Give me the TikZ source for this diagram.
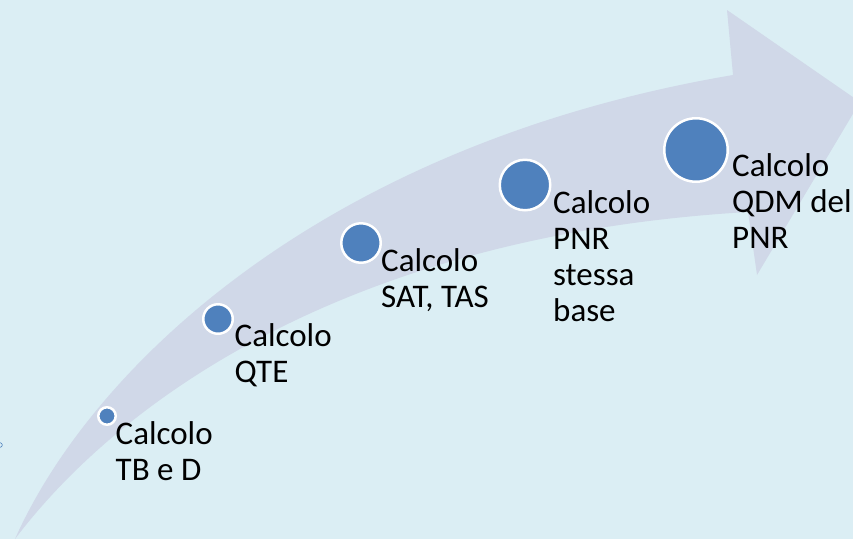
\documentclass[tikz,border=0pt]{standalone}
\usepackage{fontspec}
\setmainfont{Carlito}
\definecolor{bgc}{HTML}{DBEEF4}
\definecolor{arrowc}{HTML}{D0D8E8}
\definecolor{dotc}{HTML}{4F81BD}
\begin{document}
\begin{tikzpicture}[x=1pt,y=-1pt,
  dot/.style={circle,fill=dotc,draw=white,line width=2.5pt,inner sep=0pt,minimum size=#1},
  lbl/.style={anchor=base west,inner sep=0pt,font=\fontsize{33}{36}\selectfont}]
\useasboundingbox (0,0) rectangle (853,539);
\clip (0,0) rectangle (853,539);
\fill[bgc] (0,0) rectangle (853,539);
% curved arrow
\fill[arrowc] (15,539) .. controls (90,370) and (320,145) .. (733,75)
  -- (727,10) -- (860,102) -- (757,275) -- (748,212)
  .. controls (350,235) and (120,400) .. (15,539) -- cycle;
% tiny mark at the left edge
\draw[dotc,line width=0.6pt] (0,445) circle (2.3);
% dots
\node[dot=17.5pt] (c1) at (107,416) {};
\node[dot=29.5pt] (c2) at (218,319) {};
\node[dot=39.5pt] (c3) at (361,243) {};
\node[dot=50.5pt] (c4) at (525,185) {};
\node[dot=63.5pt] (c5) at (696,150) {};
% labels
\node[lbl] (t1) at (115.5,444) {\vtop{\hbox{Calcolo}\hbox{TB e D}}};
\node[lbl] (t2) at (234.5,346) {\vtop{\hbox{Calcolo}\hbox{QTE}}};
\node[lbl] (t3) at (381,271) {\vtop{\hbox{Calcolo}\hbox{SAT, TAS}}};
\node[lbl] (t4) at (553,213) {\vtop{\hbox{Calcolo}\hbox{PNR}\hbox{stessa}\hbox{base}}};
\node[lbl] (t5) at (732,176) {\vtop{\hbox{Calcolo}\hbox{QDM del}\hbox{PNR}}};
\end{tikzpicture}
\end{document}
